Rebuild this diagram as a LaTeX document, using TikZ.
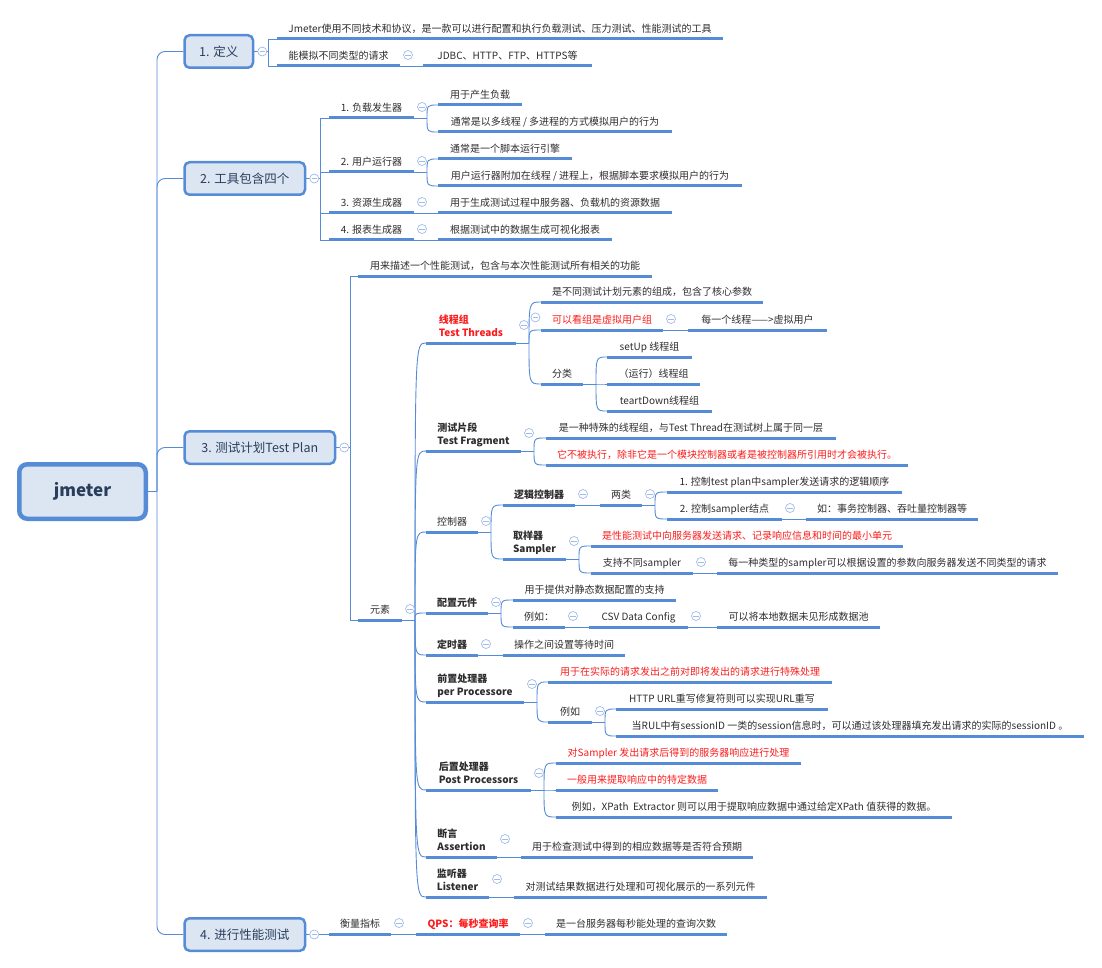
\documentclass[tikz,border=0pt]{standalone}
\usepackage{fontspec}
\setmainfont{Noto Sans CJK SC}
\usetikzlibrary{calc}
\definecolor{ub}{RGB}{86,140,214}
\definecolor{cb}{RGB}{160,188,234}
\definecolor{bf}{RGB}{220,230,243}
\definecolor{bt}{RGB}{42,62,92}
\definecolor{tx}{RGB}{45,45,45}
\definecolor{rd}{RGB}{250,28,28}
\newcommand\twol[2]{\vbox{\baselineskip=13pt\lineskiplimit=-10pt\hbox{#1}\hbox{#2}}}
\newcommand\tpc[6][]{\node[topic,#1,minimum width={(#5-#3)*1pt}] (#2) at (#3,#4) {#6};
  \draw[uline] (#2.south west) -- (#2.south east);}
\newcommand\lnk[2]{\draw[conn] (#1.south east) -- (#2.south west);}
\newcommand\crv[2]{\coordinate (#1J) at ($(#1.south east)+(13,0)$);
  \draw[conn] (#1.south east) -- (#1J);
  \foreach \kid in {#2}{\draw[conn] (#1J) .. controls (#1J |- \kid.south west) .. (\kid.south west);}}
\newcommand\elb[2]{\foreach \kid in {#2}{\draw[conn] (#1.east) -- ++(14,0) |- (\kid.south west);}}
\newcommand\colp[2][11]{\node[coll] (#2c) at ($(#2.south east)+(8,-#1)$) {};}
\begin{document}
\begin{tikzpicture}[x=1pt,y=-1pt,
  topic/.style={anchor=south west, inner xsep=0pt, inner ysep=4.2pt, outer sep=0pt, text depth=2pt,
    font=\fontsize{10pt}{13pt}\selectfont, text=tx},
  uline/.style={draw=ub, line width=3pt},
  conn/.style={draw=ub, line width=0.9pt},
  hot/.style={text=rd},
  bd/.style={font=\fontsize{10pt}{13pt}\selectfont\bfseries},
  coll/.style={circle, draw=cb, fill=white, line width=0.7pt, minimum size=9pt, inner sep=0pt,
    path picture={\draw[cb, line width=0.7pt] ([xshift=-2.6pt]path picture bounding box.center) -- ([xshift=2.6pt]path picture bounding box.center);}},
  lonebox/.style={draw=ub, line width=2.5pt, fill=bf, rounded corners=5pt, anchor=west, minimum height=32.5pt,
    text=bt, font=\fontsize{12.5pt}{15pt}\selectfont, inner sep=0pt},
  rootbox/.style={draw=ub, line width=4.5pt, fill=bf, rounded corners=8pt, minimum width=126.5pt, minimum height=54.5pt,
    text=bt, font=\fontsize{17pt}{20pt}\selectfont\bfseries}]
\useasboundingbox (0,0) rectangle (1102,968);
% root and main branches
\node[rootbox] (root) at (82.5,491.5) {jmeter};
\node[lonebox, minimum width=68.5pt] (b1) at (183.25,51.5) {1. 定义};
\node[lonebox, minimum width=120.5pt] (b2) at (183.25,178.5) {2. 工具包含四个};
\node[lonebox, minimum width=150.5pt] (b3) at (183.25,447.5) {3. 测试计划Test Plan};
\node[lonebox, minimum width=120.5pt] (b4) at (183.25,934.5) {4. 进行性能测试};
% 1
\tpc{d1}{277}{39}{723}{Jmeter使用不同技术和协议，是一款可以进行配置和执行负载测试、压力测试、性能测试的工具}
\tpc{d2}{277}{66}{400}{能模拟不同类型的请求}
\tpc{d2a}{423}{66}{592}{JDBC、HTTP、FTP、HTTPS等}
% 2
\tpc{t1}{329}{118}{414}{1. 负载发生器}
\tpc{t1a}{438}{105}{522}{用于产生负载}
\tpc{t1b}{438}{132}{672}{通常是以多线程 / 多进程的方式模拟用户的行为}
\tpc{t2}{329}{172}{414}{2. 用户运行器}
\tpc{t2a}{438}{159}{572}{通常是一个脚本运行引擎}
\tpc{t2b}{438}{186}{742}{用户运行器附加在线程 / 进程上，根据脚本要求模拟用户的行为}
\tpc{t3}{329}{213}{414}{3. 资源生成器}
\tpc{t3a}{438}{213}{672}{用于生成测试过程中服务器、负载机的资源数据}
\tpc{t4}{329}{240}{414}{4. 报表生成器}
\tpc{t4a}{438}{240}{612}{根据测试中的数据生成可视化报表}
% 3
\tpc{p1}{358}{276}{652}{用来描述一个性能测试，包含与本次性能测试所有相关的功能}
\tpc{p2}{358}{620}{402}{元素}
\tpc[bd,hot]{e1}{426}{343}{516}{\twol{线程组}{Test Threads}}
\tpc{e1a}{541}{302}{763}{是不同测试计划元素的组成，包含了核心参数}
\tpc[hot]{e1b}{541}{330}{663}{可以看组是虚拟用户组}
\tpc{e1b1}{688}{330}{827}{每一个线程——>虚拟用户}
\tpc{e1c}{541}{384}{583}{分类}
\tpc{e1c1}{607}{357}{692}{setUp 线程组}
\tpc{e1c2}{607}{384}{700}{（运行）线程组}
\tpc{e1c3}{607}{411}{712}{teartDown线程组}
\tpc[bd]{e2}{426}{451}{521}{\twol{测试片段}{Test Fragment}}
\tpc{e2a}{546}{438}{836}{是一种特殊的线程组，与Test Thread在测试树上属于同一层}
\tpc[hot]{e2b}{546}{465}{908}{它不被执行，除非它是一个模块控制器或者是被控制器所引用时才会被执行。}
\tpc{e3}{426}{532}{478}{控制器}
\tpc[bd]{e3a}{503}{505}{575}{逻辑控制器}
\tpc{e3a1}{600}{505}{642}{两类}
\tpc{e3a1a}{667}{492}{902}{1. 控制test plan中sampler发送请求的逻辑顺序}
\tpc{e3a1b}{667}{519}{782}{2. 控制sampler结点}
\tpc{e3a1b1}{806}{519}{978}{如：事务控制器、吞吐量控制器等}
\tpc[bd]{e3b}{503}{559}{566}{\twol{取样器}{Sampler}}
\tpc[hot]{e3b1}{591}{546}{903}{是性能测试中向服务器发送请求、记录响应信息和时间的最小单元}
\tpc{e3b2}{591}{573}{693}{支持不同sampler}
\tpc{e3b2a}{717}{573}{1058}{每一种类型的sampler可以根据设置的参数向服务器发送不同类型的请求}
\tpc[bd]{e4}{426}{613}{488}{配置元件}
\tpc{e4a}{513}{600}{676}{用于提供对静态数据配置的支持}
\tpc{e4b}{513}{627}{565}{例如：}
\tpc{e4b1}{589}{627}{688}{CSV Data Config}
\tpc{e4b1a}{717}{627}{880}{可以将本地数据未见形成数据池}
\tpc[bd]{e5}{426}{655}{478}{定时器}
\tpc{e5a}{503}{655}{625}{操作之间设置等待时间}
\tpc[bd]{e6}{426}{702}{524}{\twol{前置处理器}{per Processore}}
\tpc[hot]{e6a}{548}{682}{832}{用于在实际的请求发出之前对即将发出的请求进行特殊处理}
\tpc{e6b}{548}{722}{592}{例如}
\tpc{e6b1}{616}{709}{828}{HTTP URL重写修复符则可以实现URL重写}
\tpc{e6b2}{616}{736}{1084}{当RUL中有sessionID 一类的session信息时，可以通过该处理器填充发出请求的实际的sessionID 。}
\tpc[bd]{e7}{426}{790}{531}{\twol{后置处理器}{Post Processors}}
\tpc[hot]{e7a}{556}{763}{801}{对Sampler 发出请求后得到的服务器响应进行处理}
\tpc[hot]{e7b}{556}{790}{718}{一般用来提取响应中的特定数据}
\tpc{e7c}{556}{817}{952}{例如，XPath~ Extractor 则可以用于提取响应数据中通过给定XPath 值获得的数据。}
\tpc[bd]{e8}{426}{857}{497}{\twol{断言}{Assertion}}
\tpc{e8a}{521}{857}{753}{用于检查测试中得到的相应数据等是否符合预期}
\tpc[bd]{e9}{426}{897}{489}{\twol{监听器}{Listener}}
\tpc{e9a}{514}{897}{767}{对测试结果数据进行处理和可视化展示的一系列元件}
% 4
\tpc{q1}{329}{934}{391}{衡量指标}
\tpc[bd,hot]{q2}{416}{934}{520}{QPS：每秒查询率}
\tpc{q3}{545}{934}{727}{是一台服务器每秒能处理的查询次数}
% connectors
\coordinate (tr) at (157,491.5);
\draw[conn] (root.east) -- (tr);
\foreach \b in {b1,b2,b3,b4} \draw[conn,rounded corners=8pt] (tr) |- (\b.west);
\elb{b1}{d1,d2}
\elb{b2}{t1,t2,t3,t4}
\elb{b3}{p1,p2}
\elb{b4}{q1}
\lnk{d2}{d2a}\lnk{t3}{t3a}\lnk{t4}{t4a}\lnk{e1b}{e1b1}\lnk{e3a}{e3a1}\lnk{e3a1b}{e3a1b1}
\lnk{e3b2}{e3b2a}\lnk{e4b}{e4b1}\lnk{e4b1}{e4b1a}\lnk{e5}{e5a}\lnk{e8}{e8a}\lnk{e9}{e9a}
\lnk{q1}{q2}\lnk{q2}{q3}
\crv{t1}{t1a,t1b}
\crv{t2}{t2a,t2b}
\crv{p2}{e1,e2,e3,e4,e5,e6,e7,e8,e9}
\crv{e1}{e1a,e1b,e1c}
\crv{e1c}{e1c1,e1c2,e1c3}
\crv{e2}{e2a,e2b}
\crv{e3}{e3a,e3b}
\crv{e3a1}{e3a1a,e3a1b}
\crv{e3b}{e3b1,e3b2}
\crv{e4}{e4a,e4b}
\crv{e6}{e6a,e6b}
\crv{e6b}{e6b1,e6b2}
\crv{e7}{e7a,e7b,e7c}
% collapse markers
\foreach \b in {b1,b2,b3,b4} \node[coll] (\b c) at ($(\b.east)+(8,0)$) {};
\colp{d2}\colp{t1}\colp{t2}\colp{t3}\colp{t4}\colp{p2}
\colp[18]{e1}\colp{e1b}\colp{e1c}\colp[18]{e2}\colp{e3}\colp{e3a}\colp{e3a1}\colp{e3a1b}
\colp[18]{e3b}\colp{e3b2}\colp{e4}\colp{e4b}\colp{e4b1}\colp{e5}\colp[18]{e6}\colp{e6b}
\colp[17]{e7}\colp[18]{e8}\colp[18]{e9}\colp{q1}\colp{q2}
\end{tikzpicture}
\end{document}
